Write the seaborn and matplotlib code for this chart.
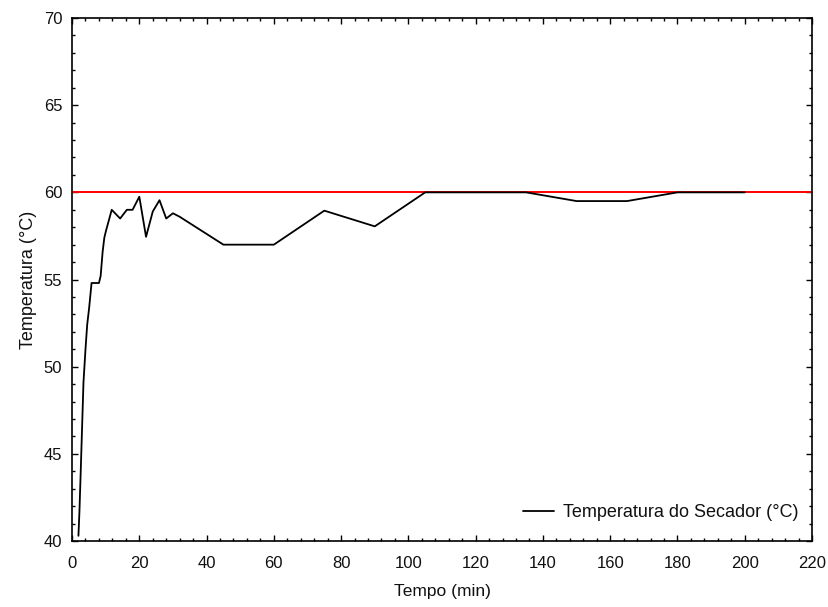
import matplotlib
matplotlib.use("Agg")
import matplotlib.pyplot as plt
import seaborn as sns
import pandas as pd
from matplotlib.ticker import MultipleLocator

tempo = [1.9, 2.2, 2.6, 3.0, 3.4, 4.0, 4.5, 5.1, 5.8, 8.0, 8.5, 9.1, 9.6, 10.1,
         11.8, 14.3, 16.3, 18.0, 20.0, 22.0, 24.0, 26.0, 28.0, 30.0, 32.0,
         45.0, 60.0, 75.0, 90.0, 105.0, 120.0, 135.0, 150.0, 165.0, 180.0, 200.0]
temperatura = [40.3, 41.7, 44.1, 46.6, 49.1, 51.0, 52.4, 53.4, 54.8, 54.8, 55.2,
               56.6, 57.4, 57.8, 59.0, 58.5, 59.0, 59.0, 59.75, 57.45, 58.9,
               59.55, 58.5, 58.8, 58.6, 57.0, 57.0, 58.95, 58.05, 60.0, 60.0,
               60.0, 59.5, 59.5, 60.0, 60.0]
setpoint = 60.0
serie = "Temperatura do Secador (°C)"

df = pd.DataFrame({"Tempo": tempo, "Temp": temperatura})

sns.set_style("ticks")
plt.rcParams["font.family"] = ["Liberation Sans", "DejaVu Sans"]

fig = plt.figure(figsize=(8.29, 6.07), dpi=100)
ax = fig.add_axes([0.0869, 0.1087, 0.8926, 0.8616])

ax.axhline(setpoint, color="#ff0000", lw=1.4, zorder=1)
sns.lineplot(data=df, x="Tempo", y="Temp", color="black", lw=1.3, ax=ax,
             label=serie, zorder=2, estimator=None, sort=False)

ax.set_xlim(0, 220)
ax.set_ylim(40, 70)
ax.xaxis.set_major_locator(MultipleLocator(20))
ax.xaxis.set_minor_locator(MultipleLocator(4))
ax.yaxis.set_major_locator(MultipleLocator(5))
ax.yaxis.set_minor_locator(MultipleLocator(1))
ax.tick_params(which="both", direction="in", top=True, right=True,
               labelsize=12, color="black", width=1, labelcolor="#111111")
ax.tick_params(axis="x", which="major", length=4, pad=10.5)
ax.tick_params(axis="y", which="major", length=4, pad=7)
ax.tick_params(which="minor", length=2.5)
for s in ax.spines.values():
    s.set_color("black")
    s.set_linewidth(1.2)

ax.set_xlabel("Tempo (min)", fontsize=12.5, labelpad=10, color="#111111")
ax.set_ylabel("Temperatura (°C)", fontsize=13, labelpad=5, color="#111111")

leg = ax.legend(loc="center left", frameon=False, fontsize=13,
                handlelength=1.7, handletextpad=0.5,
                bbox_to_anchor=(0.6, 0.054), borderaxespad=0)
for t in leg.get_texts():
    t.set_color("#111111")

fig.savefig("out.png", dpi=100)
